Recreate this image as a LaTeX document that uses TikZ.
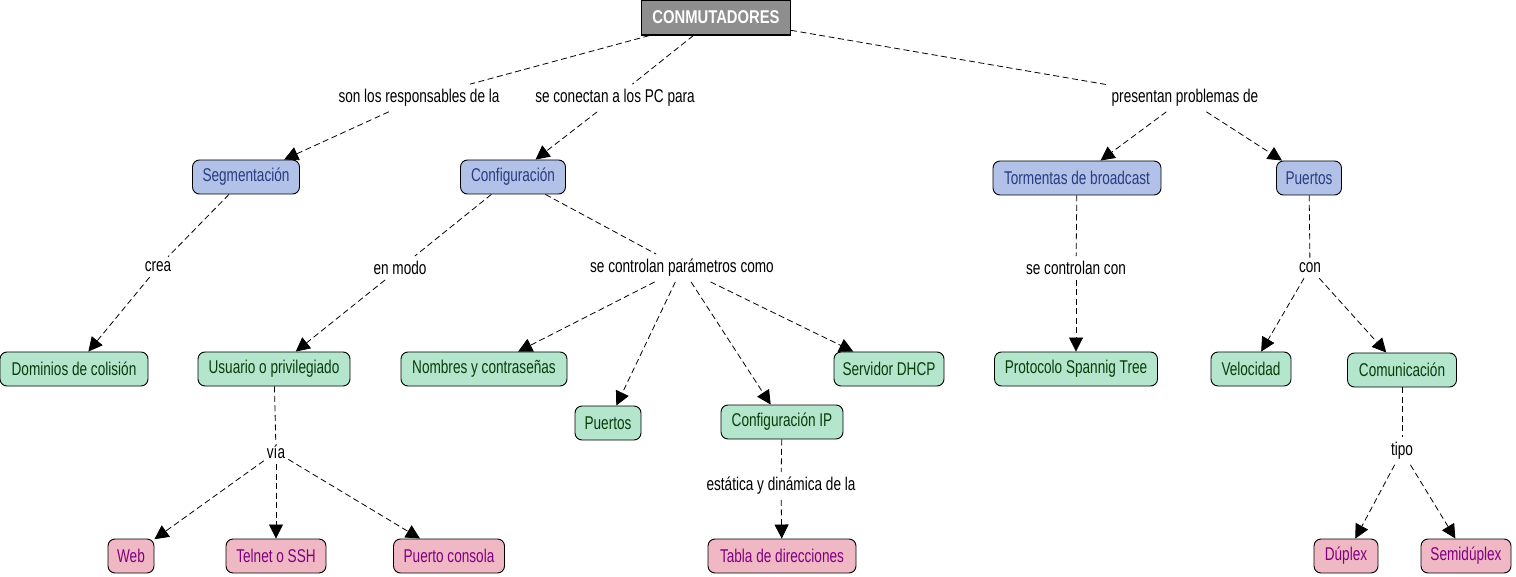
\documentclass[tikz,border=0pt]{standalone}
\usepackage{fontspec}
\setmainfont{Liberation Sans}[FakeStretch=0.735]
\newfontfamily\rootfont{Liberation Sans}[FakeStretch=0.80]
\usetikzlibrary{arrows.meta}
\definecolor{bfill}{HTML}{B1C1E8}
\definecolor{btext}{HTML}{2A3C80}
\definecolor{gfill}{HTML}{B3E6CC}
\definecolor{gtext}{HTML}{0B3D0B}
\definecolor{pfill}{HTML}{F0B8C4}
\definecolor{ptext}{HTML}{800080}
\definecolor{rfill}{HTML}{8E8E8E}
\tikzset{
  concept/.style={draw=black, line width=0.9pt, rounded corners=7pt, minimum height=34pt, inner xsep=5pt, font=\fontsize{18.5}{21}\selectfont},
  bluebox/.style={concept, fill=bfill, text=btext},
  greenbox/.style={concept, fill=gfill, text=gtext},
  pinkbox/.style={concept, fill=pfill, text=ptext},
  rootbox/.style={draw=black, line width=1.2pt, fill=rfill, text=white, minimum width=149pt, minimum height=35pt, font=\rootfont\fontsize{18.5}{21}\selectfont\bfseries},
  lab/.style={inner xsep=3pt, inner ysep=5pt, font=\fontsize{18.5}{21}\selectfont, text=black},
  link/.style={dashed, dash pattern=on 6pt off 3.5pt, line width=0.8pt},
  arr/.style={link, -{Triangle[length=14pt,width=14pt]}},
}
\begin{document}
\begin{tikzpicture}[x=1pt,y=-1pt]
\useasboundingbox (0,0) rectangle (1516,577);
% concepts
\node[rootbox] (root) at (716,17.5) {CONMUTADORES};
\node[bluebox, minimum width=107pt] (seg) at (246,177) {Segmentación};
\node[bluebox, minimum width=105pt] (conf) at (513,177) {Configuración};
\node[bluebox, minimum width=168pt] (torm) at (1077,178) {Tormentas de broadcast};
\node[bluebox, minimum width=65pt] (puer1) at (1309,178) {Puertos};
\node[greenbox, minimum width=148pt] (dom) at (74,369) {Dominios de colisión};
\node[greenbox, minimum width=152pt] (usu) at (274,369) {Usuario o privilegiado};
\node[greenbox, minimum width=166pt] (nom) at (484,369) {Nombres y contraseñas};
\node[greenbox, minimum width=110pt] (dhcp) at (889,369) {Servidor DHCP};
\node[greenbox, minimum width=66pt] (puer2) at (608,423) {Puertos};
\node[greenbox, minimum width=122pt] (cip) at (782,422) {Configuración IP};
\node[greenbox, minimum width=163pt] (prot) at (1076,369) {Protocolo Spannig Tree};
\node[greenbox, minimum width=80pt] (vel) at (1251,369) {Velocidad};
\node[greenbox, minimum width=109pt] (com) at (1402,370) {Comunicación};
\node[pinkbox, minimum width=46pt] (web) at (131,556) {Web};
\node[pinkbox, minimum width=100pt] (tel) at (276,556) {Telnet o SSH};
\node[pinkbox, minimum width=111pt] (cons) at (449,556) {Puerto consola};
\node[pinkbox, minimum width=148pt] (tabla) at (782,556) {Tabla de direcciones};
\node[pinkbox, minimum width=64pt] (dup) at (1346,556) {Dúplex};
\node[pinkbox, minimum width=90pt] (semi) at (1466,556) {Semidúplex};
% link labels
\node[lab] (l1) at (419,98) {son los responsables de la};
\node[lab] (l2) at (615,98) {se conectan a los PC para};
\node[lab] (l3) at (1185,98) {presentan problemas de};
\node[lab] (l4) at (158,267) {crea};
\node[lab] (l5) at (400,268) {en modo};
\node[lab] (l6) at (682,268) {se controlan parámetros como};
\node[lab] (l7) at (1076,268) {se controlan con};
\node[lab] (l8) at (1310,268) {con};
\node[lab] (l9) at (276,452) {vía};
\node[lab] (l10) at (781,486) {estática y dinámica de la};
\node[lab] (l11) at (1402,451) {tipo};
% connectors
\draw[link] (root) -- (l1);
\draw[arr] (l1) -- (seg);
\draw[link] (root) -- (l2);
\draw[arr] (l2) -- (conf);
\draw[link] (root) -- (l3);
\draw[arr] (l3) -- (torm);
\draw[arr] (l3) -- (puer1);
\draw[link] (seg) -- (l4);
\draw[arr] (l4) -- (dom);
\draw[link] (conf) -- (l5);
\draw[arr] (l5) -- (usu);
\draw[link] (conf) -- (l6);
\draw[arr] (l6) -- (nom);
\draw[arr] (l6) -- (puer2);
\draw[arr] (l6) -- (cip);
\draw[arr] (l6) -- (dhcp);
\draw[link] (torm) -- (l7);
\draw[arr] (l7) -- (prot);
\draw[link] (puer1) -- (l8);
\draw[arr] (l8) -- (vel);
\draw[arr] (l8) -- (com);
\draw[link] (usu) -- (l9);
\draw[arr] (l9) -- (web);
\draw[arr] (l9) -- (tel);
\draw[arr] (l9) -- (cons);
\draw[link] (cip) -- (l10);
\draw[arr] (l10) -- (tabla);
\draw[link] (com) -- (l11);
\draw[arr] (l11) -- (dup);
\draw[arr] (l11) -- (semi);
\end{tikzpicture}
\end{document}
